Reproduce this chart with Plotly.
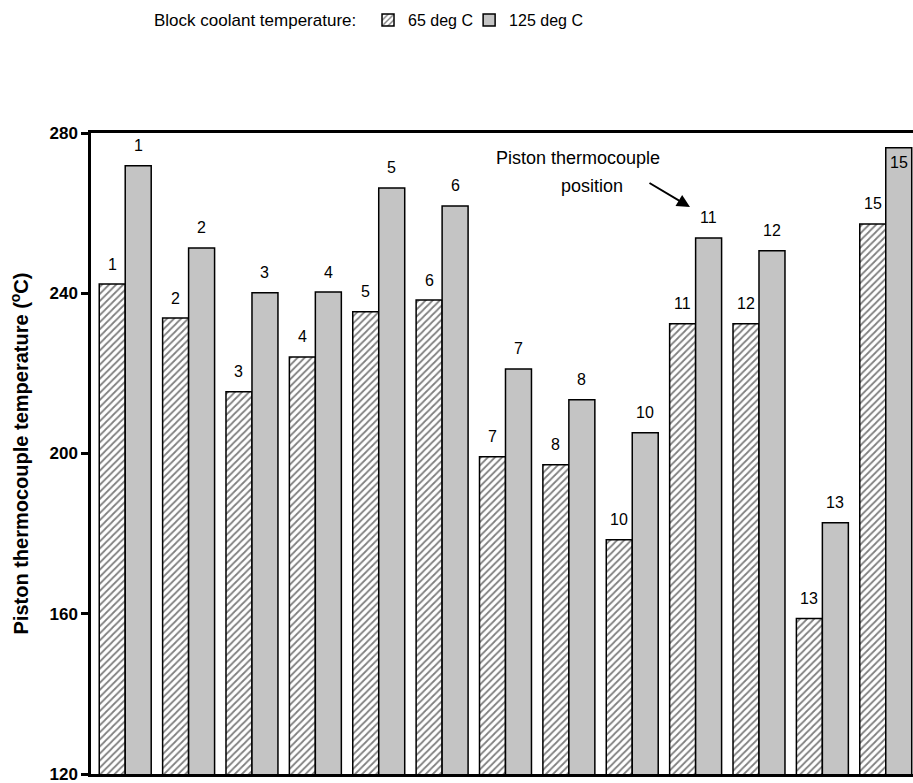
import plotly.graph_objects as go

positions = ["1", "2", "3", "4", "5", "6", "7", "8", "10", "11", "12", "13", "15"]
temp_65 = [242.3, 233.8, 215.4, 224.1, 235.4, 238.3, 199.2, 197.2, 178.5, 232.4, 232.4, 158.8, 257.3]
temp_125 = [271.8, 251.3, 240.1, 240.3, 266.3, 261.8, 221.1, 213.4, 205.2, 253.8, 250.6, 182.7, 276.3]
series_names = ["65 deg C", "125 deg C"]
y_ticks = [120, 160, 200, 240, 280]

FONT = "Liberation Sans, Arial, sans-serif"
idx = list(range(len(positions)))
bargap = 0.18
bw = (1 - bargap) / 2

fig = go.Figure()
fig.add_trace(go.Bar(
    x=idx, y=temp_65, name=series_names[0], legend="legend",
    marker=dict(color="white", line=dict(color="black", width=1.5),
                pattern=dict(shape="/", fgcolor="black", bgcolor="white", size=5, solidity=0.35)),
))
fig.add_trace(go.Bar(
    x=idx, y=temp_125, name=series_names[1], legend="legend2",
    marker=dict(color="#c4c4c4", line=dict(color="black", width=1.5)),
))

LBL = dict(size=16, color="black", family=FONT)
annotations = []
for i, (lab, a, b) in enumerate(zip(positions, temp_65, temp_125)):
    annotations.append(dict(x=i - bw / 2, y=a, xref="x", yref="y", text=lab, showarrow=False,
                            yshift=20, font=LBL))
    inside = b > 272
    annotations.append(dict(x=i + bw / 2, y=b, xref="x", yref="y", text=lab, showarrow=False,
                            yshift=-15 if inside else 20, font=LBL))

ANN = dict(size=18, color="black", family=FONT)
annotations.append(dict(x=0.5925, y=273.8, xref="paper", yref="y",
                        text="Piston thermocouple", showarrow=False, font=ANN))
annotations.append(dict(x=0.6095, y=266.8, xref="paper", yref="y",
                        text="position", showarrow=False, font=ANN))
annotations.append(dict(x=0.7287, y=261.5, xref="paper", yref="y", text="",
                        showarrow=True, ax=-42, ay=-25, arrowhead=2, arrowsize=1.3,
                        arrowwidth=2, arrowcolor="black"))
annotations.append(dict(x=(152 - 91) / 822, y=1.176, xref="paper", yref="paper",
                        xanchor="left", yanchor="middle", text="Block coolant temperature:",
                        showarrow=False, font=dict(size=17, color="black", family=FONT)))

LEG = dict(orientation="h", y=1.176, xanchor="left", yanchor="middle",
           font=dict(size=16, family=FONT, color="black"), itemwidth=30,
           bgcolor="rgba(0,0,0,0)")

fig.update_layout(
    width=913, height=783,
    margin=dict(l=91, r=0, t=133, b=9),
    paper_bgcolor="white", plot_bgcolor="white",
    barmode="group", bargap=bargap, bargroupgap=0,
    font=dict(family=FONT, color="black"),
    showlegend=True,
    legend=dict(x=0.337, **LEG),
    legend2=dict(x=0.460, **LEG),
    annotations=annotations,
    xaxis=dict(range=[-0.54, 12.43], showticklabels=False, ticks="", showgrid=False,
               zeroline=False, showline=True, linecolor="black", linewidth=2.5, mirror=True),
    yaxis=dict(range=[120, 280], tickvals=y_ticks, ticks="outside", ticklen=7, tickwidth=2.5,
               tickcolor="black", showgrid=False, zeroline=False, showline=True,
               linecolor="black", linewidth=2.5, ticklabeloverflow="allow",
               tickfont=dict(size=17, family=FONT, weight="bold"),
               title=dict(text="Piston thermocouple temperature (<sup>o</sup>C)",
                          font=dict(size=20, family=FONT, weight="bold"), standoff=16)),
)

fig.write_html("out.html")
